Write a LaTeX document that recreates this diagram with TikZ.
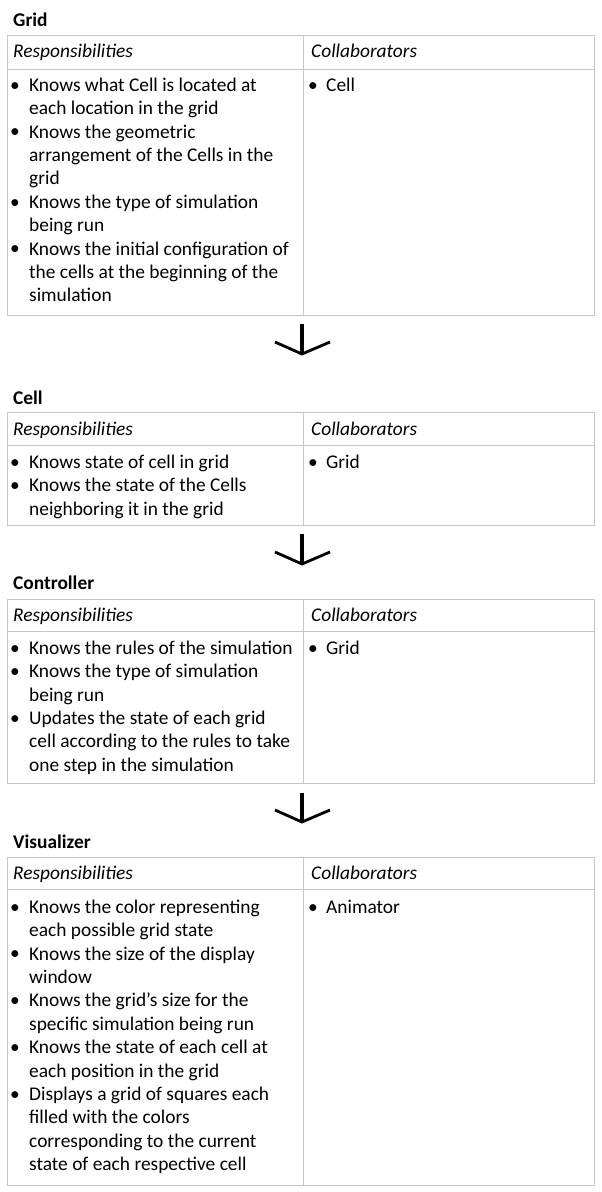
\documentclass[tikz,border=0pt]{standalone}
\usepackage{fontspec}
\setmainfont{Carlito}
\begin{document}
\begin{tikzpicture}[x=1pt,y=-1pt,
    rule/.style={draw=gray!45,line width=0.9pt},
    title/.style={anchor=base west,inner sep=0pt,font=\fontsize{19.4}{23.4}\selectfont\bfseries},
    head/.style={anchor=base west,inner sep=0pt,font=\fontsize{19.4}{23.4}\selectfont\itshape},
    bul/.style={anchor=base,inner sep=0pt,font=\fontsize{19.4}{23.4}\selectfont},
    item/.style={anchor=north west,inner sep=0pt,align=left,yshift=16.38pt,
        font=\fontsize{19.4}{23.4}\selectfont},
    stem/.style={line width=4pt},
    barb/.style={line width=2.8pt}]
\useasboundingbox (0,0) rectangle (602,1192);

% Grid
\node[title] (gridtitle) at (13,26) {Grid};
\draw[rule] (7,35.5) rectangle (594.5,315);
\draw[rule] (7,69)--(594.5,69);
\draw[rule] (303,35.5)--(303,315);
\node[head] (gridresp) at (13,57) {Responsibilities};
\node[head] (gridcoll) at (311,57) {Collaborators};
\node[bul] (gb1) at (15,91) {\textbullet};
\node[item] (gi1) at (29,91) {\strut Knows what Cell is located at\\each location in the grid};
\node[bul] (gb2) at (15,137.8) {\textbullet};
\node[item] (gi2) at (29,137.8) {\strut Knows the geometric\\arrangement of the Cells in the\\grid};
\node[bul] (gb3) at (15,208) {\textbullet};
\node[item] (gi3) at (29,208) {\strut Knows the type of simulation\\being run};
\node[bul] (gb4) at (15,254.8) {\textbullet};
\node[item] (gi4) at (29,254.8) {\strut Knows the initial configuration of\\the cells at the beginning of the\\simulation};
\node[bul] (gcb1) at (313,91) {\textbullet};
\node[item] (gc1) at (326,91) {\strut Cell};

\coordinate (s1) at (302,324);
\coordinate (t1) at (302,354);
\draw[stem] (s1)--(t1);
\draw[barb] (t1) ++(-27,-12)--(t1)--++(28,-12);

% Cell
\node[title] (celltitle) at (13,404) {Cell};
\draw[rule] (7,412) rectangle (594.5,525);
\draw[rule] (7,445)--(594.5,445);
\draw[rule] (303,412)--(303,525);
\node[head] (cellresp) at (13,435) {Responsibilities};
\node[head] (cellcoll) at (311,435) {Collaborators};
\node[bul] (cb1) at (15,468) {\textbullet};
\node[item] (ci1) at (29,468) {\strut Knows state of cell in grid};
\node[bul] (cb2) at (15,491.4) {\textbullet};
\node[item] (ci2) at (29,491.4) {\strut Knows the state of the Cells\\neighboring it in the grid};
\node[bul] (ccb1) at (313,468) {\textbullet};
\node[item] (cc1) at (326,468) {\strut Grid};

\coordinate (s2) at (302,534);
\coordinate (t2) at (302,564);
\draw[stem] (s2)--(t2);
\draw[barb] (t2) ++(-27,-12)--(t2)--++(28,-12);

% Controller
\node[title] (contitle) at (13,589) {Controller};
\draw[rule] (7,599) rectangle (594.5,783);
\draw[rule] (7,631)--(594.5,631);
\draw[rule] (303,599)--(303,783);
\node[head] (conresp) at (13,621) {Responsibilities};
\node[head] (concoll) at (311,621) {Collaborators};
\node[bul] (kb1) at (15,654) {\textbullet};
\node[item] (ki1) at (29,654) {\strut Knows the rules of the simulation};
\node[bul] (kb2) at (15,677.4) {\textbullet};
\node[item] (ki2) at (29,677.4) {\strut Knows the type of simulation\\being run};
\node[bul] (kb3) at (15,724.2) {\textbullet};
\node[item] (ki3) at (29,724.2) {\strut Updates the state of each grid\\cell according to the rules to take\\one step in the simulation};
\node[bul] (kcb1) at (313,654) {\textbullet};
\node[item] (kc1) at (326,654) {\strut Grid};

\coordinate (s3) at (302,793);
\coordinate (t3) at (302,822);
\draw[stem] (s3)--(t3);
\draw[barb] (t3) ++(-27,-12)--(t3)--++(28,-12);

% Visualizer
\node[title] (vistitle) at (13,848) {Visualizer};
\draw[rule] (7,857) rectangle (594.5,1185);
\draw[rule] (7,889)--(594.5,889);
\draw[rule] (303,857)--(303,1185);
\node[head] (visresp) at (13,879) {Responsibilities};
\node[head] (viscoll) at (311,879) {Collaborators};
\node[bul] (vb1) at (15,913) {\textbullet};
\node[item] (vi1) at (29,913) {\strut Knows the color representing\\each possible grid state};
\node[bul] (vb2) at (15,959.8) {\textbullet};
\node[item] (vi2) at (29,959.8) {\strut Knows the size of the display\\window};
\node[bul] (vb3) at (15,1006.6) {\textbullet};
\node[item] (vi3) at (29,1006.6) {\strut Knows the grid's size for the\\specific simulation being run};
\node[bul] (vb4) at (15,1053.4) {\textbullet};
\node[item] (vi4) at (29,1053.4) {\strut Knows the state of each cell at\\each position in the grid};
\node[bul] (vb5) at (15,1100.2) {\textbullet};
\node[item] (vi5) at (29,1100.2) {\strut Displays a grid of squares each\\filled with the colors\\corresponding to the current\\state of each respective cell};
\node[bul] (vcb1) at (313,913) {\textbullet};
\node[item] (vc1) at (326,913) {\strut Animator};
\end{tikzpicture}
\end{document}
